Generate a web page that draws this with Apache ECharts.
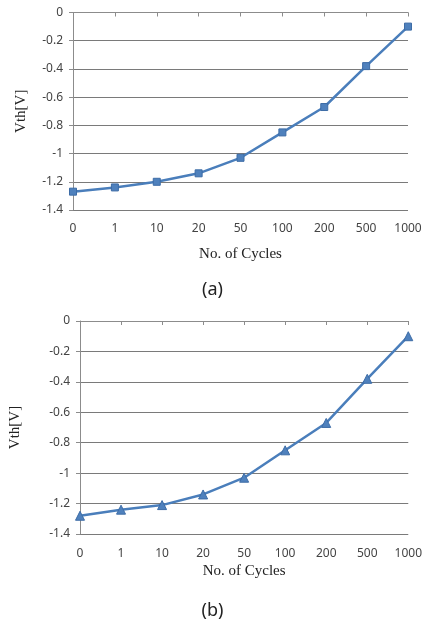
<!DOCTYPE html>
<html><head><meta charset="utf-8">
<script src="https://cdn.jsdelivr.net/npm/echarts@6/dist/echarts.min.js"></script>
<style>html,body{margin:0;padding:0;background:#fff}#c{width:425px;height:623px}</style>
</head><body><div id="c"></div>
<script>
const categories = ['0','1','10','20','50','100','200','500','1000'];
const vthA = [-1.27,-1.24,-1.20,-1.14,-1.03,-0.85,-0.67,-0.38,-0.10];
const vthB = [-1.28,-1.24,-1.21,-1.14,-1.03,-0.85,-0.67,-0.38,-0.10];
const yTicks = [0,-0.2,-0.4,-0.6,-0.8,-1,-1.2,-1.4];
const xName = 'No. of Cycles';
const yName = 'Vth[V]';
const panelLabels = ['(a)','(b)'];

const chart = echarts.init(document.getElementById('c'), null, {renderer:'canvas'});
const lineColor = '#4a7ebb';
const labelFont = {fontFamily:'Noto Sans', fontSize:12, color:'#444'};
const nameFont = {fontFamily:'Liberation Serif', fontSize:15, color:'#222'};
function xAxis(gi, gap, nameGap){
  return {type:'category', gridIndex:gi, data:categories, boundaryGap:false,
    axisLine:{lineStyle:{color:'#8c8c8c'}}, axisTick:{alignWithLabel:true, length:4, lineStyle:{color:'#8c8c8c'}},
    axisLabel:Object.assign({margin:gap, interval:0}, labelFont),
    name:xName, nameLocation:'middle', nameGap:nameGap, nameTextStyle:nameFont, splitLine:{show:false}};
}
function yAxis(gi, nameGap){
  return {type:'value', gridIndex:gi, min:-1.4, max:0, interval:0.2,
    axisLine:{show:true, lineStyle:{color:'#8c8c8c'}}, axisTick:{show:true, length:4, lineStyle:{color:'#8c8c8c'}},
    axisLabel:Object.assign({margin:10, formatter:v=>String(Math.round(v*10)/10)}, labelFont),
    splitLine:{lineStyle:{color:'#7a7a7a', width:1}},
    name:yName, nameLocation:'middle', nameGap:nameGap, nameRotate:90, nameTextStyle:nameFont};
}
const panelStyle = {fontFamily:'Noto Sans', fontSize:18, fontWeight:'normal', color:'#222'};
chart.setOption({
  animation:false,
  grid:[{left:73, right:17, top:12.5, height:197.5},{left:80, right:11, top:321, height:213}],
  title:[
    {text:panelLabels[0], left:'center', top:276, textStyle:panelStyle},
    {text:panelLabels[1], left:'center', top:597, textStyle:panelStyle}
  ],
  xAxis:[xAxis(0,13,37), xAxis(1,14,30)],
  yAxis:[yAxis(0,44), yAxis(1,57)],
  series:[
    {type:'line', xAxisIndex:0, yAxisIndex:0, data:vthA, symbol:'rect', symbolSize:7,
     lineStyle:{color:lineColor, width:2.5}, itemStyle:{color:'#4f81bd', borderColor:'#3d6ca6', borderWidth:1}},
    {type:'line', xAxisIndex:1, yAxisIndex:1, data:vthB, symbol:'triangle', symbolSize:9,
     lineStyle:{color:lineColor, width:2.5}, itemStyle:{color:'#4f81bd', borderColor:'#3d6ca6', borderWidth:1}}
  ]
});
</script></body></html>
